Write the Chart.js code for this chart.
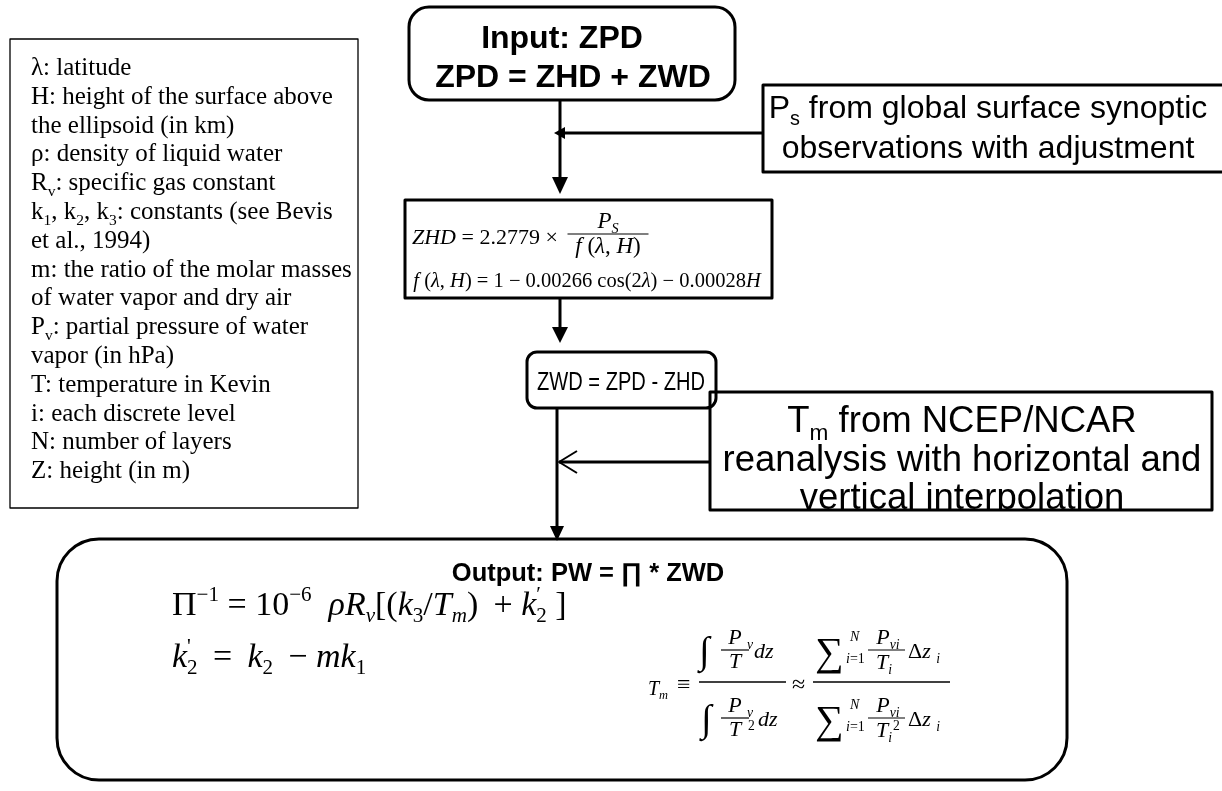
<!DOCTYPE html>
<html>
<head>
<meta charset="utf-8">
<script src="https://cdn.jsdelivr.net/npm/chart.js@4.4.1/dist/chart.umd.min.js"></script>
<style>
  html, body { margin: 0; padding: 0; background: #fff; }
  #wrap { width: 1222px; height: 791px; position: relative; }
</style>
</head>
<body>
<div id="wrap"><canvas id="flow"></canvas></div>
<script>
// Text of the flow chart (segments: [text, flags]; i = italic, _ = sub, ^ = sup, < = no advance)
const legendLines = [
    [['λ: latitude', '']],
    [['H: height of the surface above', '']],
    [['the ellipsoid (in km)', '']],
    [['ρ: density of liquid water', '']],
    [['R', ''], ['v', '_'], [': specific gas constant', '']],
    [['k', ''], ['1', '_'], [', k', ''], ['2', '_'], [', k', ''], ['3', '_'], [': constants (see Bevis', '']],
    [['et al., 1994)', '']],
    [['m: the ratio of the molar masses', '']],
    [['of water vapor and dry air', '']],
    [['P', ''], ['v', '_'], [': partial pressure of water', '']],
    [['vapor (in hPa)', '']],
    [['T: temperature in Kevin', '']],
    [['i: each discrete level', '']],
    [['N: number of layers', '']],
    [['Z: height (in m)', '']]
];
const inputLines = ['Input: ZPD', 'ZPD = ZHD + ZWD'];
const psLines = [
    [['P', ''], ['s', '_'], [' from global surface synoptic', '']],
    [['observations with adjustment', '']]
];
const zwdLabel = 'ZWD = ZPD - ZHD';
const tmLines = [
    [['T', ''], ['m', '_'], [' from NCEP/NCAR', '']],
    [['reanalysis with horizontal and', '']],
    [['vertical interpolation', '']]
];
const outputTitle = 'Output: PW = ∏ * ZWD';

// one invisible point per node, so the scales span the page
const nodeNames = ['Input', 'Ps', 'ZHD', 'ZWD', 'Tm', 'Output', 'Legend'];
const nodeX = [572, 990, 588, 621, 962, 562, 184];
const nodeY = [54, 128, 249, 380, 451, 660, 274];

const SANS = '"Liberation Sans", Arial, sans-serif';
const SERIF = '"Liberation Serif", "Times New Roman", serif';
const TH = '\u2009';

function segFont(flags, size, fam, bold) {
    const small = flags.includes('_') || flags.includes('^');
    const sz = small ? size * 0.62 : size;
    return (flags.includes('i') ? 'italic ' : '') + (bold ? 'bold ' : '') + sz + 'px ' + fam;
}

function richWidth(ctx, segs, size, fam, bold) {
    let w = 0;
    segs.forEach(([t, f]) => {
        ctx.font = segFont(f, size, fam, bold);
        if (!f.includes('<')) w += ctx.measureText(t).width;
    });
    return w;
}

function rich(ctx, segs, x, y, size, fam, align, bold) {
    let cx = x;
    if (align === 'center') cx = x - richWidth(ctx, segs, size, fam, bold) / 2;
    ctx.textAlign = 'left';
    ctx.textBaseline = 'alphabetic';
    segs.forEach(([t, f]) => {
        ctx.font = segFont(f, size, fam, bold);
        let dy = 0;
        if (f.includes('_')) dy = size * 0.22;
        if (f.includes('^')) dy = -size * 0.42;
        ctx.fillText(t, cx, y + dy);
        if (!f.includes('<')) cx += ctx.measureText(t).width;
    });
    return cx;
}

// centred text squeezed to a given width
function fitText(ctx, text, cx, y, font, width) {
    ctx.font = font;
    ctx.textAlign = 'center';
    ctx.textBaseline = 'alphabetic';
    const w = ctx.measureText(text).width;
    ctx.save();
    ctx.translate(cx, y);
    ctx.scale(width / w, 1);
    ctx.fillText(text, 0, 0);
    ctx.restore();
}

function roundBox(ctx, x0, y0, x1, y1, r) {
    ctx.beginPath();
    ctx.moveTo(x0 + r, y0);
    ctx.lineTo(x1 - r, y0);
    ctx.arcTo(x1, y0, x1, y0 + r, r);
    ctx.lineTo(x1, y1 - r);
    ctx.arcTo(x1, y1, x1 - r, y1, r);
    ctx.lineTo(x0 + r, y1);
    ctx.arcTo(x0, y1, x0, y1 - r, r);
    ctx.lineTo(x0, y0 + r);
    ctx.arcTo(x0, y0, x0 + r, y0, r);
    ctx.closePath();
    ctx.stroke();
}

function hline(ctx, x0, x1, y, w) {
    ctx.lineWidth = w || 1;
    ctx.beginPath();
    ctx.moveTo(x0, y);
    ctx.lineTo(x1, y);
    ctx.stroke();
}

// arrow from (x0,y0) to tip (tx,ty); filled head unless open
function arrow(ctx, x0, y0, tx, ty, len, half, open) {
    const dx = tx - x0, dy = ty - y0;
    const d = Math.hypot(dx, dy), ux = dx / d, uy = dy / d;
    ctx.lineWidth = 3;
    ctx.beginPath();
    ctx.moveTo(x0, y0);
    ctx.lineTo(open ? tx : tx - ux * len * 0.6, open ? ty : ty - uy * len * 0.6);
    ctx.stroke();
    ctx.beginPath();
    ctx.moveTo(tx - ux * len - uy * half, ty - uy * len + ux * half);
    ctx.lineTo(tx, ty);
    ctx.lineTo(tx - ux * len + uy * half, ty - uy * len - ux * half);
    if (open) {
        ctx.lineWidth = 2;
        ctx.stroke();
    } else {
        ctx.closePath();
        ctx.fill();
    }
}

function frac(ctx, num, den, cx, ly, w, size) {
    hline(ctx, cx - w / 2, cx + w / 2, ly, 1.2);
    rich(ctx, num, cx, ly - size * 0.26, size, SERIF, 'center');
    rich(ctx, den, cx, ly + size * 0.84, size, SERIF, 'center');
}

const flowPlugin = {
    id: 'flow',
    afterDraw(chart) {
        const ctx = chart.ctx;
        const sx = chart.scales.x, sy = chart.scales.y;
        const X = v => sx.getPixelForValue(v);
        const Y = v => sy.getPixelForValue(v);
        ctx.save();
        ctx.fillStyle = '#000';
        ctx.strokeStyle = '#000';
        ctx.lineJoin = 'round';

        // legend box
        ctx.lineWidth = 1.3;
        ctx.strokeRect(X(10), Y(39), X(358) - X(10), Y(508) - Y(39));
        legendLines.forEach((segs, i) => {
            rich(ctx, segs, X(31), Y(75 + i * 28.8), 25, SERIF, 'left');
        });

        // input box
        ctx.lineWidth = 3;
        roundBox(ctx, X(409), Y(7), X(735), Y(100), 20);
        ctx.font = 'bold 32px ' + SANS;
        ctx.textAlign = 'center';
        ctx.fillText(inputLines[0], X(562), Y(48));
        ctx.fillText(inputLines[1], X(573), Y(87));

        // Ps box
        ctx.lineWidth = 3;
        ctx.strokeRect(X(763), Y(85), X(1226) - X(763), Y(172) - Y(85));
        rich(ctx, psLines[0], X(988), Y(118), 32, SANS, 'center');
        rich(ctx, psLines[1], X(988), Y(158), 32, SANS, 'center');

        arrow(ctx, X(560), Y(100), X(560), Y(194), 17, 8);
        arrow(ctx, X(763), Y(133), X(554), Y(133), 11, 6);

        // ZHD box
        ctx.lineWidth = 3;
        ctx.strokeRect(X(405), Y(200), X(772) - X(405), Y(298) - Y(200));
        rich(ctx, [['ZHD', 'i'], [' = 2.2779 ×', '']], X(412), Y(244), 22, SERIF, 'left');
        frac(ctx, [['P', 'i'], ['S', 'i_']], [['f', 'i'], [' (', ''], ['λ', 'i'], [', ', ''], ['H', 'i'], [')', '']],
            X(608), Y(234), X(648) - X(567), 23);
        rich(ctx, [['f', 'i'], [' (', ''], ['λ', 'i'], [', ', ''], ['H', 'i'], [') = 1 − 0.00266 cos(2', ''], ['λ', 'i'],
            [') − 0.00028', ''], ['H', 'i']], X(587), Y(287), 20.5, SERIF, 'center');

        arrow(ctx, X(560), Y(298), X(560), Y(343), 16, 8);

        // ZWD box
        ctx.lineWidth = 3;
        roundBox(ctx, X(527), Y(352), X(716), Y(408), 10);
        fitText(ctx, zwdLabel, X(621), Y(390), '26px ' + SANS, 168);

        arrow(ctx, X(557), Y(408), X(557), Y(541), 15, 7);

        // Tm box
        tmLines.forEach((segs, i) => {
            rich(ctx, segs, X(962), Y(432 + i * 38.5), 36.5, SANS, 'center');
        });
        ctx.fillStyle = '#fff';
        ctx.fillRect(X(700), Y(511), 520, 20);
        ctx.fillStyle = '#000';
        ctx.lineWidth = 3;
        ctx.strokeRect(X(710), Y(392), X(1212) - X(710), Y(510) - Y(392));
        arrow(ctx, X(710), Y(462), X(559), Y(462), 18, 11, true);

        // output box
        ctx.lineWidth = 3;
        roundBox(ctx, X(57), Y(539), X(1067), Y(780), 42);
        ctx.font = 'bold 25.5px ' + SANS;
        ctx.textAlign = 'center';
        ctx.fillText(outputTitle, X(588), Y(581));

        rich(ctx, [['Π', ''], ['−1', '^'], [' = 10', ''], ['−6', '^'], ['  ', ''], ['ρR', 'i'], ['v', 'i_'],
            ['[(', ''], ['k', 'i'], ['3', '_'], ['/', ''], ['T', 'i'], ['m', 'i_'], [')' + TH + ' + ', ''],
            ['k', 'i'], ['′', '^<'], ['2', '_'], [' ]', '']], X(172), Y(615), 34, SERIF, 'left');
        rich(ctx, [['k', 'i'], ['\'', '^<'], ['2', '_'], [' ' + TH + '= ' + TH, ''], ['k', 'i'], ['2', '_'],
            [' ' + TH + '− ', ''], ['mk', 'i'], ['1', '_']], X(172), Y(667), 34, SERIF, 'left');

        // Tm definition
        rich(ctx, [['T', 'i'], ['m', 'i_']], X(648), Y(695), 20, SERIF, 'left');
        rich(ctx, [['≡', '']], X(677), Y(692), 24, SERIF, 'left');
        hline(ctx, X(699), X(786), Y(682), 1.4);
        hline(ctx, X(813), X(950), Y(682), 1.4);
        [[650, 0], [718, 1]].forEach(([ly, sq]) => {
            ctx.font = '38px ' + SERIF;
            ctx.textAlign = 'left';
            ctx.fillText('∫', X(699 + sq * 2), Y(ly + 13));
            frac(ctx, [['P', 'i']], [['T', 'i']], X(735), Y(ly), 28, 22);
            rich(ctx, [['v', 'i_']], X(747), Y(ly - 6), 22, SERIF, 'left');
            if (sq) rich(ctx, [['2', '^']], X(748), Y(ly + 21), 22, SERIF, 'left');
            rich(ctx, [['dz', 'i']], X(sq ? 758 : 754), Y(ly + 8), 22, SERIF, 'left');

            ctx.font = '40px ' + SERIF;
            ctx.textAlign = 'left';
            ctx.fillText('∑', X(815), Y(ly + 15));
            rich(ctx, [['N', 'i']], X(850), Y(ly - 9), 14, SERIF, 'left');
            rich(ctx, [['i', 'i'], ['=1', '']], X(846), Y(ly + 13), 14, SERIF, 'left');
            hline(ctx, X(868), X(905), Y(ly), 1.2);
            rich(ctx, [['P', 'i'], ['vi', 'i_']], X(888), Y(ly - 6), 22, SERIF, 'center');
            rich(ctx, [['T', 'i'], ['i', 'i_']], X(884), Y(ly + 19), 22, SERIF, 'center');
            if (sq) rich(ctx, [['2', '^']], X(893), Y(ly + 21), 22, SERIF, 'left');
            rich(ctx, [['Δ', ''], ['z', 'i'], [' ', ''], ['i', 'i_']], X(908), Y(ly + 8), 22, SERIF, 'left');
        });
        rich(ctx, [['≈', '']], X(792), Y(692), 24, SERIF, 'left');

        ctx.restore();
    }
};

new Chart(document.getElementById('flow'), {
    type: 'scatter',
    data: {
        datasets: [{
            label: 'nodes',
            data: nodeNames.map((n, i) => ({ x: nodeX[i], y: nodeY[i] })),
            pointRadius: 0,
            pointHoverRadius: 0
        }]
    },
    options: {
        responsive: true,
        maintainAspectRatio: false,
        animation: false,
        layout: { padding: 0 },
        events: [],
        plugins: {
            legend: { display: false },
            tooltip: { enabled: false }
        },
        scales: {
            x: { type: 'linear', min: 0, max: 1222, display: false },
            y: { type: 'linear', min: 0, max: 791, reverse: true, display: false }
        }
    },
    plugins: [flowPlugin]
});
</script>
</body>
</html>
